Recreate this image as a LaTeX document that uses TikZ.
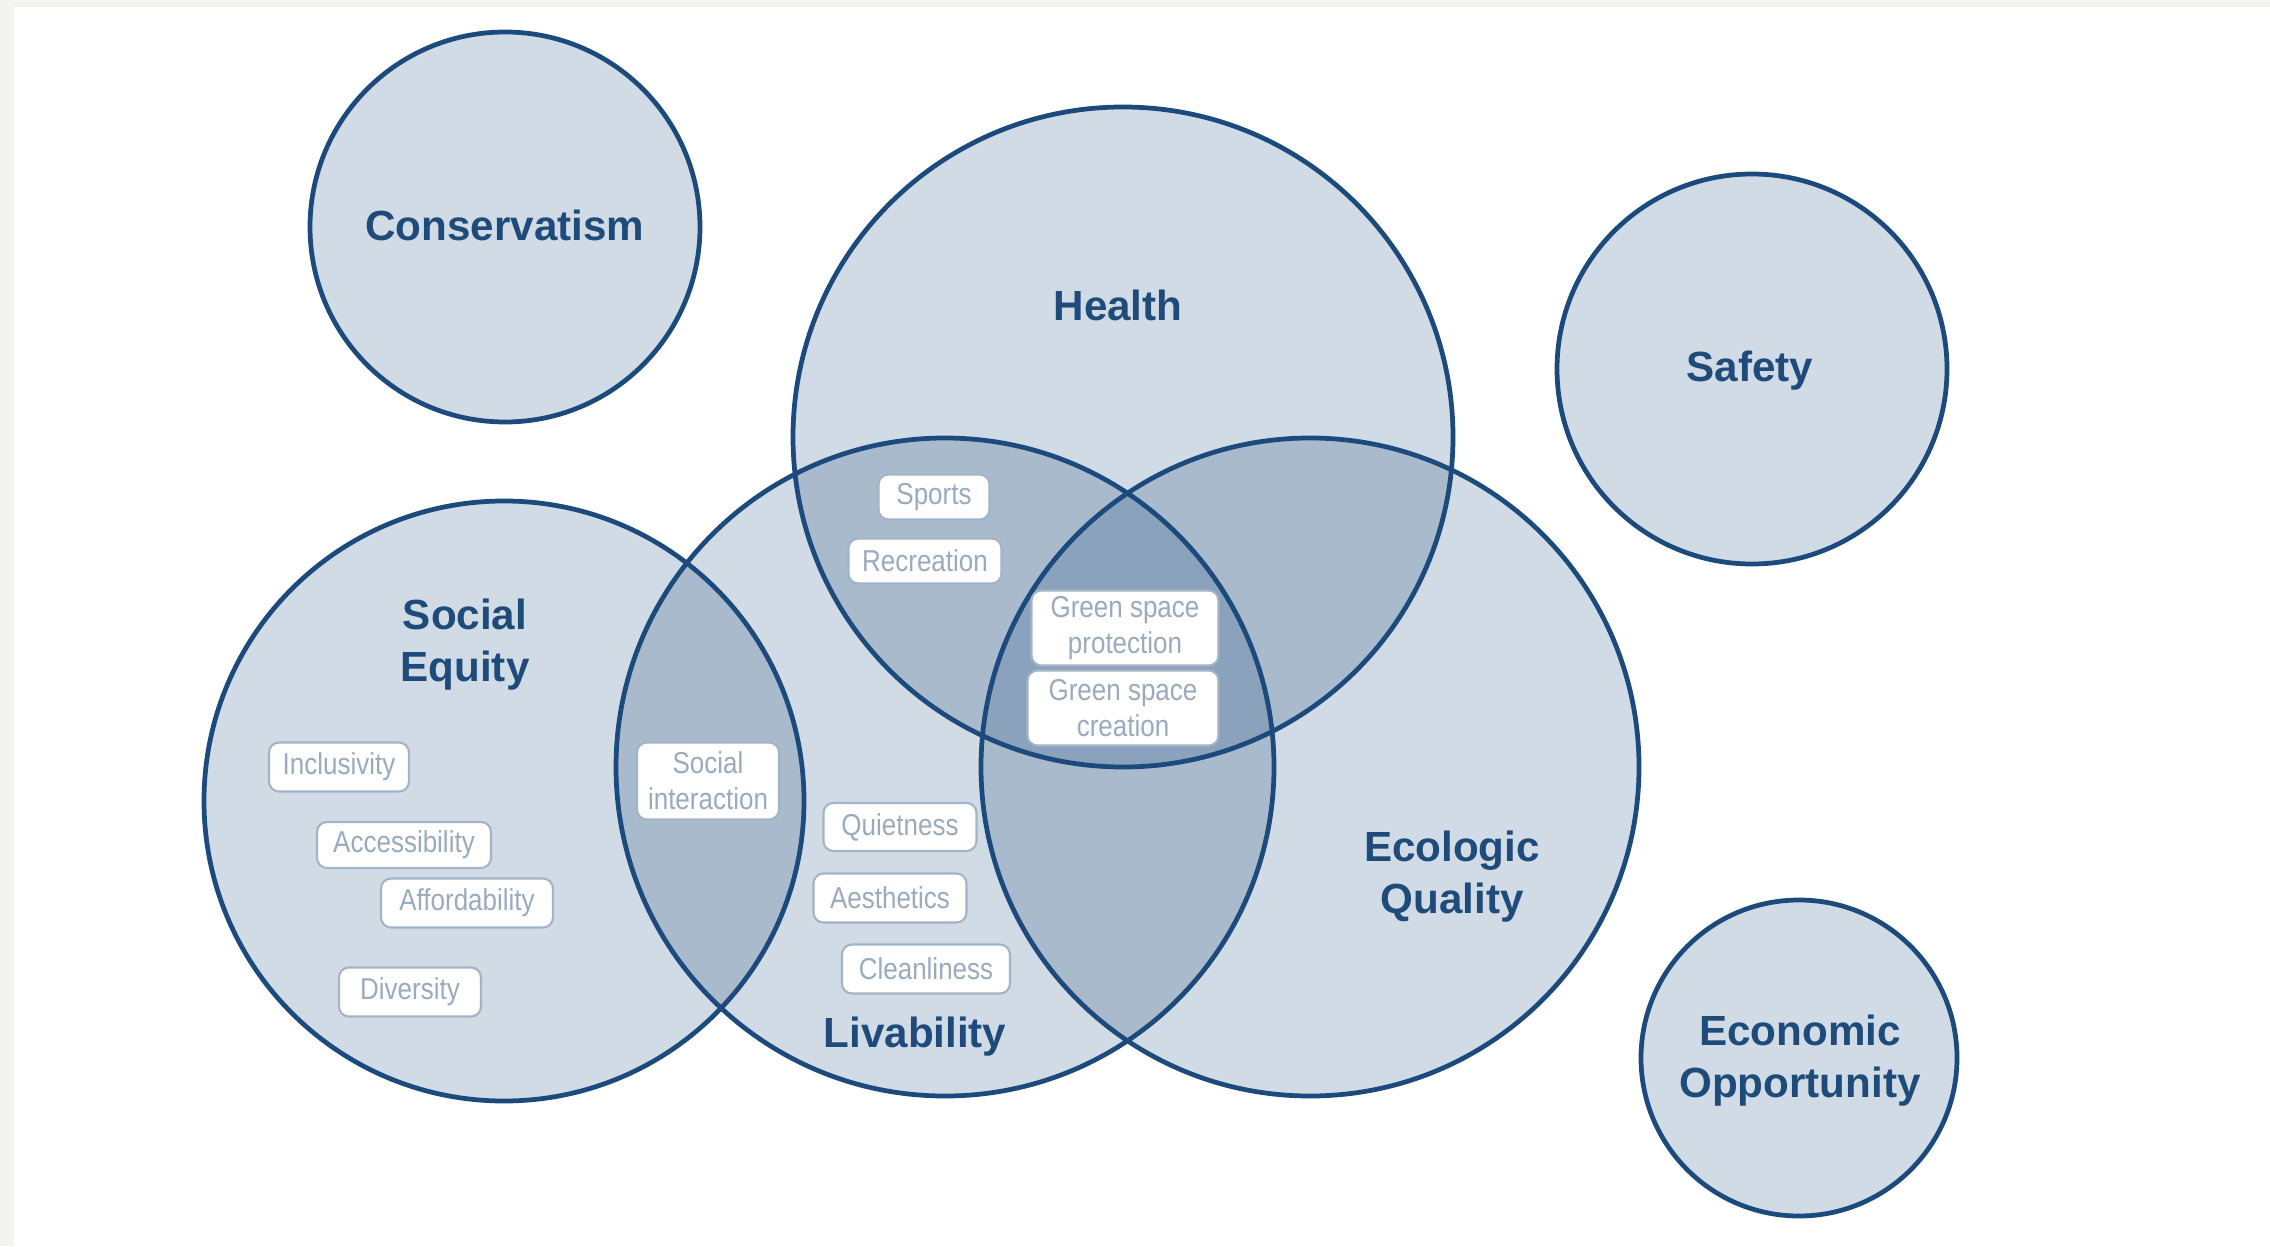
\documentclass[tikz,border=0pt]{standalone}
\usepackage{fontspec}
\setmainfont{Liberation Sans}
\newfontfamily\boxfont[FakeStretch=0.86]{Liberation Sans}
\definecolor{bggray}{HTML}{F3F4EF}
\definecolor{cfill}{HTML}{D0DBE5}
\definecolor{cmid}{HTML}{A9BACC}
\definecolor{cdark}{HTML}{8AA2BB}
\definecolor{cline}{HTML}{1C4A7C}
\definecolor{ctext}{HTML}{1F4B7B}
\definecolor{bline}{HTML}{A3B4C6}
\definecolor{btext}{HTML}{9AABBE}
\def\pCons{(505,227) circle[radius=195]}
\def\pHealth{(1123,437) circle[radius=330]}
\def\pSafety{(1752,369) circle[radius=195]}
\def\pSocial{(504,801) circle[radius=300]}
\def\pLiv{(945,767) circle[radius=329]}
\def\pEco{(1310,767) circle[radius=329]}
\def\pEcon{(1799,1058) circle[radius=158]}
\tikzset{
  biglabel/.style={text=ctext, font=\bfseries\fontsize{12}{14.8}\selectfont, align=center, inner sep=0pt},
  tagbox/.style={draw=bline, line width=0.6pt, fill=white, rounded corners=1mm, text=btext,
    font=\boxfont\fontsize{8.6}{10.2}\selectfont, align=center, inner sep=0pt},
  ring/.style={draw=cline, line width=1.35pt}
}
\begin{document}
\begin{tikzpicture}[x=0.1mm,y=-0.1mm]
\fill[bggray] (0,0) rectangle (2270,1246);
\fill[white] (14,7) rectangle (2270,1246);
\useasboundingbox (0,0) rectangle (2270,1246);
% base fills
\fill[cfill] \pCons;
\fill[cfill] \pHealth;
\fill[cfill] \pSafety;
\fill[cfill] \pSocial;
\fill[cfill] \pLiv;
\fill[cfill] \pEco;
\fill[cfill] \pEcon;
% pairwise overlaps
\begin{scope}\clip \pHealth; \fill[cmid] \pLiv; \fill[cmid] \pEco; \end{scope}
\begin{scope}\clip \pLiv; \fill[cmid] \pEco; \fill[cmid] \pSocial; \end{scope}
% triple overlap
\begin{scope}\clip \pHealth; \clip \pLiv; \fill[cdark] \pEco; \end{scope}
% outlines
\draw[ring] \pCons;
\draw[ring] \pHealth;
\draw[ring] \pSafety;
\draw[ring] \pSocial;
\draw[ring] \pLiv;
\draw[ring] \pEco;
\draw[ring] \pEcon;
% main labels
\node[biglabel] (cons) at (505,225) {Conservatism};
\node[biglabel] (health) at (1118,305) {Health};
\node[biglabel] (safety) at (1750,371) {Safety};
\node[biglabel] (social) at (465,645) {Social\\Equity};
\node[biglabel] (liv) at (915,1037) {Livability};
\node[biglabel] (eco) at (1452,877) {Ecologic\\Quality};
\node[biglabel] (econ) at (1800,1061) {Economic\\Opportunity};
% tag boxes
\node[tagbox, minimum width=11.1mm, minimum height=4.5mm] (sports) at (934,497) {Sports};
\node[tagbox, minimum width=15.3mm, minimum height=4.5mm] (recr) at (925,561) {Recreation};
\node[tagbox, minimum width=18.7mm, minimum height=7.5mm] (gsp) at (1125,628) {Green space\\protection};
\node[tagbox, minimum width=19.1mm, minimum height=7.5mm] (gsc) at (1123,708) {Green space\\creation};
\node[tagbox, minimum width=14.0mm, minimum height=4.9mm] (incl) at (339,767) {Inclusivity};
\node[tagbox, minimum width=17.4mm, minimum height=4.6mm] (acc) at (404,845) {Accessibility};
\node[tagbox, minimum width=17.2mm, minimum height=4.9mm] (aff) at (467,903) {Affordability};
\node[tagbox, minimum width=14.2mm, minimum height=4.9mm] (div) at (410,992) {Diversity};
\node[tagbox, minimum width=14.2mm, minimum height=7.7mm] (socint) at (708,781) {Social\\interaction};
\node[tagbox, minimum width=15.3mm, minimum height=4.8mm] (quiet) at (900,827) {Quietness};
\node[tagbox, minimum width=15.3mm, minimum height=4.9mm] (aest) at (890,898) {Aesthetics};
\node[tagbox, minimum width=16.8mm, minimum height=4.9mm] (clean) at (926,969) {Cleanliness};
\end{tikzpicture}
\end{document}
